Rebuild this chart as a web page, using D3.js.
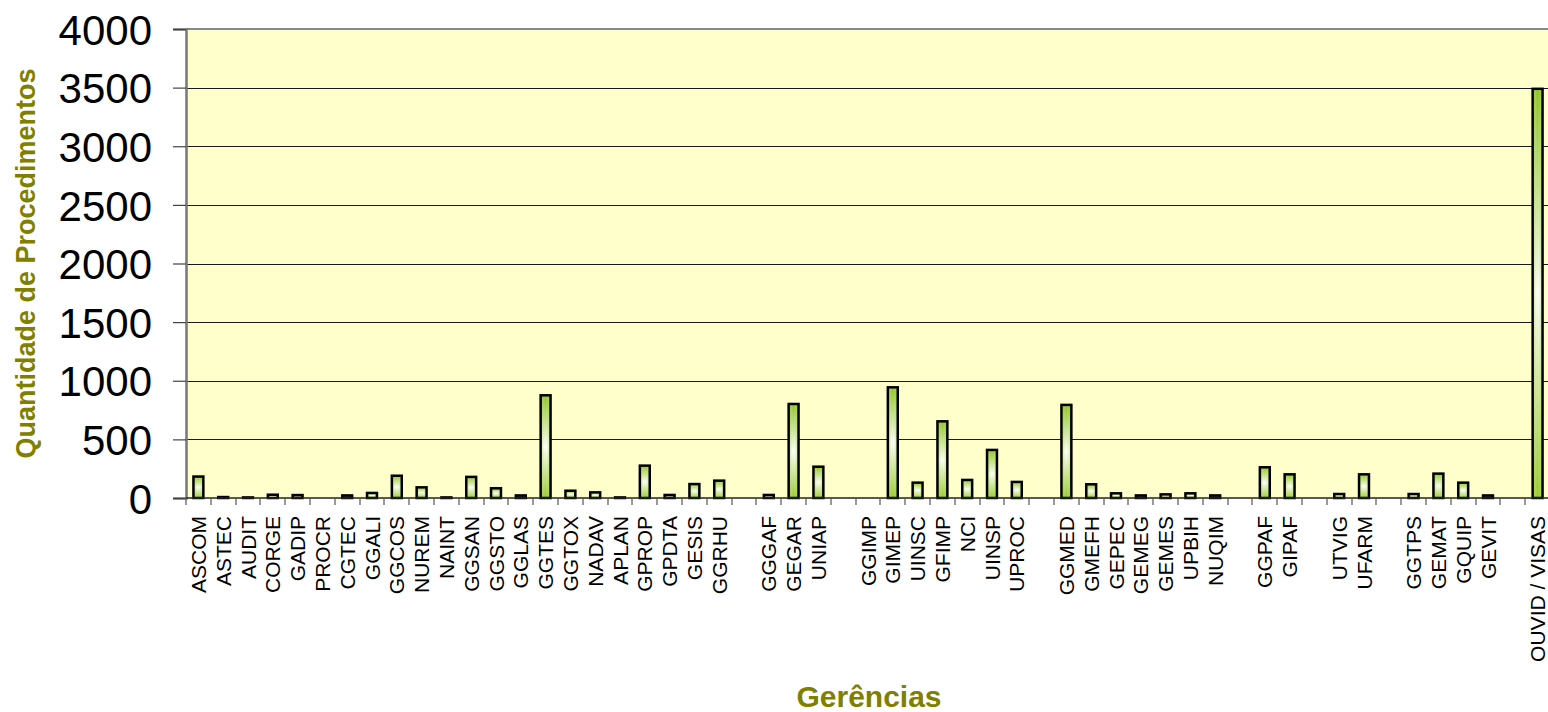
<!DOCTYPE html>
<html>
<head>
<meta charset="utf-8">
<script src="https://cdn.jsdelivr.net/npm/d3@7"></script>
<style>
  body { margin: 0; background: #fff; }
  svg { display: block; font-family: Arial, "Liberation Sans", sans-serif; }
</style>
</head>
<body>
<svg id="chart"></svg>
<script>
// Procedimentos por gerência ("" = espaço entre grupos)
var categories = [
  "ASCOM", "ASTEC", "AUDIT", "CORGE", "GADIP", "PROCR", "CGTEC", "GGALI", "GGCOS", "NUREM",
  "NAINT", "GGSAN", "GGSTO", "GGLAS", "GGTES", "GGTOX", "NADAV", "APLAN", "GPROP", "GPDTA",
  "GESIS", "GGRHU", "",
  "GGGAF", "GEGAR", "UNIAP", "",
  "GGIMP", "GIMEP", "UINSC", "GFIMP", "NCI", "UINSP", "UPROC", "",
  "GGMED", "GMEFH", "GEPEC", "GEMEG", "GEMES", "UPBIH", "NUQIM", "",
  "GGPAF", "GIPAF", "",
  "UTVIG", "UFARM", "",
  "GGTPS", "GEMAT", "GQUIP", "GEVIT", "",
  "OUVID / VISAS"
];

var values = [
  183, 8, 5, 28, 25, 0, 22, 43, 190, 91,
  5, 180, 83, 22, 876, 62, 48, 5, 276, 26,
  119, 148, null,
  26, 802, 267, null,
  0, 944, 131, 654, 154, 410, 137, null,
  794, 117, 40, 22, 31, 40, 22, null,
  262, 202, null,
  34, 202, null,
  34, 208, 131, 22, null,
  3490
];

var yTicks = [0, 500, 1000, 1500, 2000, 2500, 3000, 3500, 4000];

var width = 1548, height = 712;
var margin = {top: 29, left: 186, bottom: 214};
var plotRight = 1550;

var svg = d3.select("#chart")
    .attr("width", width)
    .attr("height", height);

var idx = d3.range(categories.length);

var x = d3.scaleBand()
    .domain(idx)
    .range([margin.left, plotRight])
    .paddingInner(0.6)
    .paddingOuter(0.3);

var y = d3.scaleLinear()
    .domain([0, 4000])
    .range([height - margin.bottom, margin.top]);

// gradients
var defs = svg.append("defs");
var gv = defs.append("linearGradient")
    .attr("id", "gv")
    .attr("x1", 0).attr("y1", 0).attr("x2", 0).attr("y2", 1);
gv.append("stop").attr("offset", "0%").attr("stop-color", "#8cc41c");
gv.append("stop").attr("offset", "50%").attr("stop-color", "#fbfdf4");
gv.append("stop").attr("offset", "100%").attr("stop-color", "#98ca28");

var gh = defs.append("linearGradient")
    .attr("id", "gh")
    .attr("x1", 0).attr("y1", 0).attr("x2", 1).attr("y2", 0);
gh.append("stop").attr("offset", "0%").attr("stop-color", "#8cc41c").attr("stop-opacity", 0.55);
gh.append("stop").attr("offset", "50%").attr("stop-color", "#ffffff").attr("stop-opacity", 0);
gh.append("stop").attr("offset", "100%").attr("stop-color", "#8cc41c").attr("stop-opacity", 0.55);

// plot background
svg.append("rect")
    .attr("x", margin.left)
    .attr("y", y(4000))
    .attr("width", plotRight - margin.left)
    .attr("height", y(0) - y(4000))
    .attr("fill", "#ffffcc");

// gridlines
svg.append("g")
  .selectAll("line")
  .data(yTicks.filter(function(d) { return d > 0 && d < 4000; }))
  .enter().append("line")
    .attr("x1", margin.left)
    .attr("x2", plotRight)
    .attr("y1", function(d) { return Math.round(y(d)) + 0.5; })
    .attr("y2", function(d) { return Math.round(y(d)) + 0.5; })
    .attr("stroke", "#1a1a1a")
    .attr("stroke-width", 1.2);

// top border
svg.append("line")
    .attr("x1", margin.left).attr("x2", plotRight)
    .attr("y1", y(4000)).attr("y2", y(4000))
    .attr("stroke", "#888")
    .attr("stroke-width", 2);

// bars
var bars = svg.append("g")
  .selectAll("g")
  .data(idx.filter(function(i) { return values[i] !== null && values[i] > 0; }))
  .enter().append("g");

bars.append("rect")
    .attr("x", function(i) { return x(i); })
    .attr("y", function(i) { return y(values[i]); })
    .attr("width", x.bandwidth())
    .attr("height", function(i) { return y(0) - y(values[i]); })
    .attr("fill", "url(#gv)");

bars.append("rect")
    .attr("x", function(i) { return x(i); })
    .attr("y", function(i) { return y(values[i]); })
    .attr("width", x.bandwidth())
    .attr("height", function(i) { return y(0) - y(values[i]); })
    .attr("fill", "url(#gh)")
    .attr("stroke", "#000")
    .attr("stroke-width", 2.5);

// y axis
var yAxis = svg.append("g")
    .attr("transform", "translate(" + margin.left + ",0)")
    .call(d3.axisLeft(y).tickValues(yTicks).tickFormat(d3.format("d")).tickSize(13).tickPadding(21));
yAxis.select(".domain").attr("stroke", "#777").attr("stroke-width", 2.5);
yAxis.selectAll(".tick line").attr("stroke", "#444").attr("stroke-width", 1.2);
yAxis.selectAll(".tick text")
    .attr("font-size", "42px")
    .attr("font-family", "Arial, 'Liberation Sans', sans-serif")
    .attr("fill", "#000")
    .attr("dy", "0.36em");

// x axis baseline + ticks at band edges
var xg = svg.append("g");
xg.append("line")
    .attr("x1", margin.left).attr("x2", plotRight)
    .attr("y1", y(0)).attr("y2", y(0))
    .attr("stroke", "#222")
    .attr("stroke-width", 1.5);
xg.selectAll("line.xt")
  .data(idx)
  .enter().append("line")
    .attr("class", "xt")
    .attr("x1", function(i) { return Math.round(x(i) - x.step() * x.paddingOuter()); })
    .attr("x2", function(i) { return Math.round(x(i) - x.step() * x.paddingOuter()); })
    .attr("y1", y(0))
    .attr("y2", y(0) + 7)
    .attr("stroke", "#555")
    .attr("stroke-width", 1.2);

// category labels
xg.selectAll("text")
  .data(idx.filter(function(i) { return categories[i] !== ""; }))
  .enter().append("text")
    .attr("transform", function(i) {
      return "translate(" + (x(i) + x.bandwidth() / 2) + "," + (y(0) + 18) + ") rotate(-90)";
    })
    .attr("text-anchor", "end")
    .attr("dy", "0.36em")
    .attr("font-size", "21px")
    .attr("fill", "#000")
    .text(function(i) { return categories[i]; });

// axis titles
svg.append("text")
    .attr("transform", "translate(35," + ((y(0) + y(4000)) / 2) + ") rotate(-90)")
    .attr("text-anchor", "middle")
    .attr("font-size", "27px")
    .attr("font-weight", "bold")
    .attr("fill", "#808000")
    .text("Quantidade de Procedimentos");

svg.append("text")
    .attr("x", 869)
    .attr("y", 707)
    .attr("text-anchor", "middle")
    .attr("font-size", "30px")
    .attr("font-weight", "bold")
    .attr("fill", "#808000")
    .text("Gerências");
</script>
</body>
</html>
